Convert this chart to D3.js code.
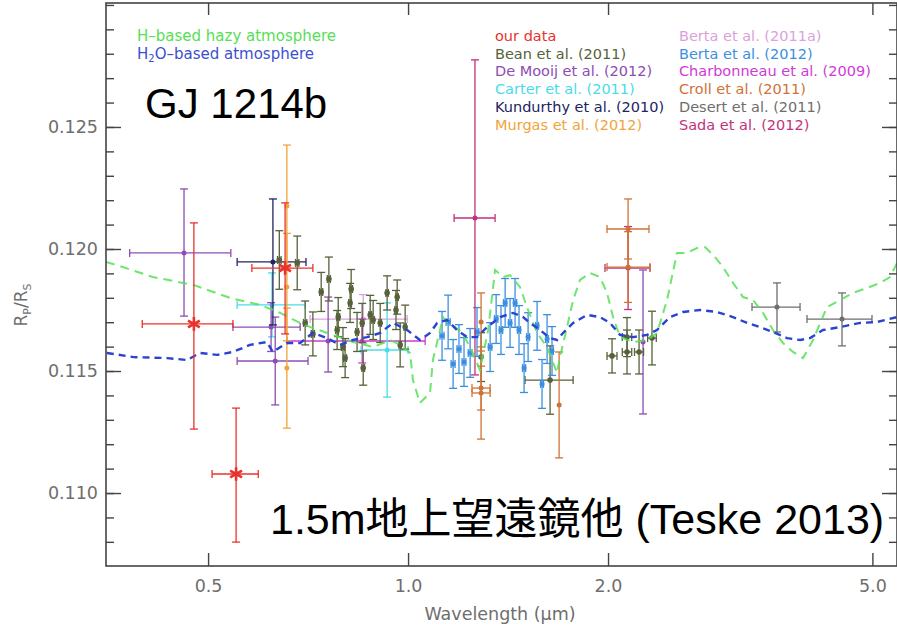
<!DOCTYPE html>
<html><head><meta charset="utf-8">
<script src="https://cdn.jsdelivr.net/npm/d3@7"></script>
<style>body{margin:0;background:#fff;} svg{display:block;}</style>
</head><body>
<svg id="c" width="897" height="627"></svg>
<script>
// rows: [wavelength, wl_minus, wl_plus, Rp/Rs, R_minus, R_plus]
const ourData = [
  [0.476, 0.078, 0.069, 0.11693, 0.00431, 0.00414],
  [0.551, 0.044, 0.044, 0.11078, 0.00279, 0.00270],
  [0.653, 0.071, 0.066, 0.11922, 0.00270, 0.00267]
];
const beanData = [
  [0.640, 0.004, 0.004, 0.11955, 0.0012, 0.0012],
  [0.681, 0.004, 0.004, 0.11943, 0.0011, 0.0011],
  [0.700, 0.004, 0.004, 0.11697, 0.0009, 0.0009],
  [0.719, 0.004, 0.004, 0.11652, 0.0009, 0.0009],
  [0.740, 0.004, 0.004, 0.11824, 0.0008, 0.0008],
  [0.760, 0.004, 0.004, 0.11877, 0.0009, 0.0009],
  [0.782, 0.004, 0.004, 0.11668, 0.0008, 0.0008],
  [0.785, 0.004, 0.004, 0.11721, 0.0008, 0.0008],
  [0.798, 0.004, 0.004, 0.11598, 0.0008, 0.0008],
  [0.804, 0.004, 0.004, 0.11553, 0.0008, 0.0008],
  [0.818, 0.004, 0.004, 0.11779, 0.0008, 0.0008],
  [0.821, 0.004, 0.004, 0.11836, 0.0008, 0.0008],
  [0.838, 0.004, 0.004, 0.11660, 0.0008, 0.0008],
  [0.853, 0.004, 0.004, 0.11697, 0.0008, 0.0008],
  [0.856, 0.004, 0.004, 0.11512, 0.0007, 0.0007],
  [0.877, 0.004, 0.004, 0.11730, 0.0008, 0.0008],
  [0.886, 0.004, 0.004, 0.11709, 0.0008, 0.0008],
  [0.908, 0.004, 0.004, 0.11697, 0.0008, 0.0008],
  [0.930, 0.004, 0.004, 0.11820, 0.0007, 0.0007],
  [0.959, 0.004, 0.004, 0.11750, 0.0008, 0.0008],
  [0.963, 0.004, 0.004, 0.11803, 0.0007, 0.0007],
  [0.973, 0.004, 0.004, 0.11607, 0.0009, 0.0009],
  [0.990, 0.004, 0.004, 0.11680, 0.0009, 0.0009],
  [1.288, 0.000, 0.000, 0.11557, 0.0010, 0.0010],
  [1.636, 0.136, 0.136, 0.11463, 0.0014, 0.0014],
  [2.028, 0.035, 0.035, 0.11562, 0.0007, 0.0007],
  [2.136, 0.035, 0.035, 0.11578, 0.0009, 0.0009],
  [2.227, 0.035, 0.035, 0.11578, 0.0009, 0.0009],
  [2.136, 0.035, 0.035, 0.11639, 0.0008, 0.0008],
  [2.329, 0.035, 0.035, 0.11635, 0.0011, 0.0011]
];
const deMooijData = [
  [0.460, 0.079, 0.081, 0.11984, 0.00259, 0.00262],
  [0.622, 0.077, 0.066, 0.11680, 0.0010, 0.0010],
  [0.631, 0.078, 0.076, 0.11541, 0.00180, 0.00180],
  [0.758, 0.000, 0.000, 0.11623, 0.00127, 0.00180],
  [2.258, 0.000, 0.000, 0.11619, 0.00295, 0.00295]
];
const carterData = [
  [0.624, 0.071, 0.076, 0.11771, 0.00131, 0.00131],
  [0.930, 0.080, 0.070, 0.11586, 0.00193, 0.00193]
];
const kundurthyData = [
  [0.626, 0.073, 0.076, 0.11947, 0.00258, 0.00258]
];
const murgasData = [
  [0.657, 0.000, 0.000, 0.12176, 0.0025, 0.0025],
  [0.657, 0.000, 0.000, 0.11844, 0.0022, 0.0022],
  [0.657, 0.000, 0.000, 0.11512, 0.00246, 0.00246]
];
const berta2011aData = [
  [0.856, 0.144, 0.141, 0.11713, 0.0010, 0.0010]
];
const berta2012Data = [
  [1.125, 0.008, 0.008, 0.11644, 0.0010, 0.0010],
  [1.149, 0.008, 0.008, 0.11701, 0.0011, 0.0011],
  [1.169, 0.008, 0.008, 0.11529, 0.0010, 0.0010],
  [1.193, 0.008, 0.008, 0.11590, 0.0010, 0.0010],
  [1.214, 0.008, 0.008, 0.11537, 0.0010, 0.0010],
  [1.240, 0.008, 0.008, 0.11574, 0.0010, 0.0010],
  [1.270, 0.008, 0.008, 0.11660, 0.0010, 0.0010],
  [1.329, 0.008, 0.008, 0.11598, 0.0010, 0.0010],
  [1.357, 0.008, 0.008, 0.11713, 0.0010, 0.0010],
  [1.380, 0.008, 0.008, 0.11668, 0.0010, 0.0010],
  [1.400, 0.008, 0.008, 0.11779, 0.0010, 0.0010],
  [1.424, 0.008, 0.008, 0.11697, 0.0010, 0.0010],
  [1.449, 0.008, 0.008, 0.11779, 0.0010, 0.0010],
  [1.469, 0.008, 0.008, 0.11668, 0.0010, 0.0010],
  [1.495, 0.008, 0.008, 0.11512, 0.0010, 0.0010],
  [1.516, 0.008, 0.008, 0.11639, 0.0010, 0.0010],
  [1.564, 0.008, 0.008, 0.11685, 0.0010, 0.0010],
  [1.591, 0.008, 0.008, 0.11447, 0.0010, 0.0010],
  [1.619, 0.008, 0.008, 0.11631, 0.0010, 0.0010],
  [1.647, 0.008, 0.008, 0.11582, 0.0010, 0.0010]
];
const charbonneauData = [
  [0.853, 0.196, 0.208, 0.11623, 0.0009, 0.0009]
];
const crollData = [
  [2.144, 0.151, 0.161, 0.12082, 0.00123, 0.00123],
  [2.144, 0.151, 0.169, 0.11926, 0.00145, 0.00145],
  [1.288, 0.000, 0.000, 0.11701, 0.00119, 0.00119],
  [1.288, 0.040, 0.041, 0.11430, 0.0009, 0.0009],
  [1.288, 0.040, 0.041, 0.11410, 0.00189, 0.00189],
  [1.688, 0.000, 0.000, 0.11361, 0.00217, 0.00217]
];
const desertData = [
  [3.592, 0.298, 0.299, 0.11762, 0.00102, 0.00099],
  [4.500, 0.514, 0.493, 0.11713, 0.00110, 0.00107]
];
const sadaData = [
  [1.261, 0.088, 0.091, 0.12127, 0.00643, 0.00648],
  [2.144, 0.165, 0.169, 0.11922, 0.0017, 0.0017]
];

// model spectra: [wavelength, Rp/Rs]
const hHazyModel = [
  [0.351,0.11947],[0.372,0.11926],[0.413,0.11885],[0.475,0.11853],[0.540,0.11799],
  [0.599,0.11771],[0.642,0.11738],[0.688,0.11697],[0.719,0.11676],[0.771,0.11648],
  [0.826,0.11619],[0.886,0.11598],[0.940,0.11627],[0.973,0.11607],[1.007,0.11574],
  [1.017,0.11463],[1.042,0.11369],[1.079,0.11410],[1.090,0.11545],[1.129,0.11721],
  [1.145,0.11697],[1.177,0.11680],[1.206,0.11656],[1.240,0.11598],[1.283,0.11504],
  [1.320,0.11668],[1.352,0.11914],[1.390,0.11885],[1.424,0.11893],[1.474,0.11844],
  [1.510,0.11762],[1.564,0.11656],[1.619,0.11598],[1.647,0.11545],[1.676,0.11492],
  [1.693,0.11557],[1.735,0.11680],[1.772,0.11791],[1.815,0.11873],[1.879,0.11902],
  [1.945,0.11885],[1.993,0.11820],[2.035,0.11721],[2.085,0.11639],[2.181,0.11619],
  [2.289,0.11627],[2.370,0.11656],[2.454,0.11791],[2.540,0.11984],[2.630,0.11984],
  [2.723,0.12004],[2.799,0.12008],[2.898,0.11967],[2.979,0.11926],[3.084,0.11861],
  [3.193,0.11803],[3.306,0.11791],[3.422,0.11738],[3.543,0.11668],[3.668,0.11615],
  [3.797,0.11578],[3.931,0.11553],[4.070,0.11627],[4.272,0.11762],[4.469,0.11791],
  [4.675,0.11820],[4.908,0.11840],[5.134,0.11861],[5.315,0.11885],[5.445,0.11943]
];
const h2oModel = [
  [0.352,0.11574],[0.386,0.11557],[0.434,0.11553],[0.465,0.11545],[0.486,0.11574],
  [0.516,0.11566],[0.545,0.11578],[0.578,0.11607],[0.613,0.11619],[0.626,0.11578],
  [0.657,0.11615],[0.688,0.11615],[0.719,0.11656],[0.755,0.11635],[0.790,0.11607],
  [0.826,0.11627],[0.868,0.11639],[0.908,0.11656],[0.949,0.11697],[0.997,0.11668],
  [1.042,0.11627],[1.079,0.11656],[1.106,0.11697],[1.145,0.11709],[1.185,0.11668],
  [1.227,0.11639],[1.270,0.11639],[1.315,0.11680],[1.376,0.11721],[1.439,0.11738],
  [1.490,0.11721],[1.526,0.11697],[1.580,0.11668],[1.636,0.11635],[1.676,0.11627],
  [1.711,0.11656],[1.772,0.11697],[1.860,0.11730],[1.945,0.11721],[2.014,0.11697],
  [2.085,0.11648],[2.181,0.11639],[2.289,0.11648],[2.370,0.11668],[2.479,0.11721],
  [2.594,0.11742],[2.751,0.11750],[2.918,0.11742],[3.084,0.11721],[3.238,0.11697],
  [3.387,0.11680],[3.543,0.11660],[3.719,0.11635],[3.891,0.11627],[4.028,0.11635],
  [4.213,0.11668],[4.469,0.11680],[4.790,0.11697],[5.081,0.11701],[5.445,0.11721]
];

const xTicks = [0.5, 1.0, 2.0, 5.0];
const xTickLabels = ["0.5", "1.0", "2.0", "5.0"];
const yTicks = [0.110, 0.115, 0.120, 0.125];
const yMinorTicks = d3.range(108, 131).map(v => v / 1000);
const legendLeft = ["our data","Bean et al. (2011)","De Mooij et al. (2012)","Carter et al. (2011)","Kundurthy et al. (2010)","Murgas et al. (2012)"];
const legendRight = ["Berta et al. (2011a)","Berta et al. (2012)","Charbonneau et al. (2009)","Croll et al. (2011)","Desert et al. (2011)","Sada et al. (2012)"];
const legendLeftColors = ["#e8322c","#56623a","#8e4cb4","#48dce8","#23235f","#f0a43a"];
const legendRightColors = ["#d9a2dc","#3c8fe0","#d03ad6","#cf7236","#6e6e6e","#c2327a"];

const M = {l:106, r:897, t:3, b:566};
const x = d3.scaleLog().domain([0.351, 5.445]).range([M.l, M.r]);
const y = d3.scaleLinear().domain([0.10701, 0.13008]).range([M.b, M.t]);
const svg = d3.select('#c');
const FONT = "'DejaVu Sans', sans-serif";

svg.append('defs').append('clipPath').attr('id','clip')
  .append('rect').attr('x',M.l).attr('y',M.t).attr('width',M.r-M.l).attr('height',M.b-M.t);

const plot = svg.append('g').attr('clip-path','url(#clip)');

function drawSeries(rows, color, marker) {
  const g = plot.append('g').attr('stroke', color).attr('fill', color).attr('stroke-width', 1.3);
  const cap = 4;
  rows.forEach(r => {
    const [wl, wm, wp, v, vm, vp] = r;
    const cx = x(wl), cy = y(v);
    if (wm > 0 || wp > 0) {
      const x0 = x(wl - wm), x1 = x(wl + wp);
      g.append('line').attr('x1',x0).attr('x2',x1).attr('y1',cy).attr('y2',cy);
      g.append('line').attr('x1',x0).attr('x2',x0).attr('y1',cy-cap).attr('y2',cy+cap);
      g.append('line').attr('x1',x1).attr('x2',x1).attr('y1',cy-cap).attr('y2',cy+cap);
    }
    const y0 = y(v - vm), y1 = y(v + vp);
    g.append('line').attr('x1',cx).attr('x2',cx).attr('y1',y0).attr('y2',y1);
    g.append('line').attr('x1',cx-cap).attr('x2',cx+cap).attr('y1',y0).attr('y2',y0);
    g.append('line').attr('x1',cx-cap).attr('x2',cx+cap).attr('y1',y1).attr('y2',y1);
    if (marker === 'star') {
      g.append('path').attr('d', d3.symbol(d3.symbolAsterisk, 130)())
        .attr('transform', `translate(${cx},${cy})`).attr('fill','none').attr('stroke-width',2.6);
    } else {
      g.append('circle').attr('cx',cx).attr('cy',cy).attr('r', marker === 'big' ? 2.8 : 2.5).attr('stroke','none');
    }
  });
}

drawSeries(berta2011aData, legendRightColors[0], 'dot');
drawSeries(desertData, legendRightColors[4], 'dot');
drawSeries(charbonneauData, legendRightColors[2], 'dot');
drawSeries(carterData, legendLeftColors[3], 'dot');
drawSeries(deMooijData, legendLeftColors[2], 'dot');
drawSeries(kundurthyData, legendLeftColors[4], 'dot');
drawSeries(beanData, legendLeftColors[1], 'big');
drawSeries(berta2012Data, legendRightColors[1], 'dot');
drawSeries(sadaData, legendRightColors[5], 'dot');
drawSeries(crollData, legendRightColors[3], 'dot');
drawSeries(murgasData, legendLeftColors[5], 'dot');

const line = d3.line().x(d => x(d[0])).y(d => y(d[1]));
plot.append('path').attr('d', line(hHazyModel)).attr('fill','none')
  .attr('stroke','#55e055').attr('stroke-width',2).attr('stroke-dasharray','9,6').attr('opacity',0.85);
plot.append('path').attr('d', line(h2oModel)).attr('fill','none')
  .attr('stroke','#2b43d2').attr('stroke-width',2.4).attr('stroke-dasharray','7,5');

drawSeries(ourData, legendLeftColors[0], 'star');

// axes
const axCol = '#444';
function styleAxis(g) {
  g.select('.domain').remove();
  g.selectAll('.tick line').attr('stroke', axCol).attr('stroke-width', 1.4);
  g.selectAll('.tick text').attr('fill','#6e6e6e').attr('font-family',FONT).attr('font-size',17.5);
}
// left
svg.append('g').attr('transform',`translate(${M.l},0)`)
  .call(d3.axisLeft(y).tickValues(yMinorTicks).tickSizeInner(-8).tickSizeOuter(0).tickFormat(''))
  .call(styleAxis);
svg.append('g').attr('transform',`translate(${M.l},0)`)
  .call(d3.axisLeft(y).tickValues(yTicks).tickSizeInner(-15).tickSizeOuter(0).tickPadding(8).tickFormat(d3.format('.3f')))
  .call(styleAxis);
// right
svg.append('g').attr('transform',`translate(${M.r},0)`)
  .call(d3.axisRight(y).tickValues(yMinorTicks).tickSizeInner(-8).tickSizeOuter(0).tickFormat(''))
  .call(styleAxis);
svg.append('g').attr('transform',`translate(${M.r},0)`)
  .call(d3.axisRight(y).tickValues(yTicks).tickSizeInner(-15).tickSizeOuter(0).tickFormat(''))
  .call(styleAxis);
// bottom
svg.append('g').attr('transform',`translate(0,${M.b})`)
  .call(d3.axisBottom(x).tickValues(xTicks).tickSizeInner(-13).tickSizeOuter(0).tickPadding(14)
    .tickFormat((d,i) => xTickLabels[i]))
  .call(styleAxis);
// top
svg.append('g').attr('transform',`translate(0,${M.t})`)
  .call(d3.axisTop(x).tickValues(xTicks).tickSizeInner(-12).tickSizeOuter(0).tickFormat(''))
  .call(styleAxis);

svg.append('rect').attr('x',M.l).attr('y',M.t).attr('width',M.r-M.l).attr('height',M.b-M.t)
  .attr('fill','none').attr('stroke',axCol).attr('stroke-width',1.6);

// axis titles
svg.append('text').attr('x',500).attr('y',620).attr('text-anchor','middle')
  .attr('font-family',FONT).attr('font-size',17.5).attr('fill','#6e6e6e').text('Wavelength (\u03bcm)');
const yl = svg.append('text').attr('transform','translate(27,305) rotate(-90)').attr('text-anchor','middle')
  .attr('font-family',FONT).attr('font-size',17).attr('fill','#6e6e6e');
yl.append('tspan').text('R');
yl.append('tspan').attr('font-size',11).attr('dy',4).text('P');
yl.append('tspan').attr('dy',-4).text('/R');
yl.append('tspan').attr('font-size',11).attr('dy',4).text('S');

// model legend
svg.append('text').attr('x',137).attr('y',41).attr('font-family',FONT).attr('font-size',15)
  .attr('fill','#55e055').text('H\u2013based hazy atmosphere');
const h2o = svg.append('text').attr('x',137).attr('y',59).attr('font-family',FONT).attr('font-size',15)
  .attr('fill','#3b50d0');
h2o.append('tspan').text('H');
h2o.append('tspan').attr('font-size',10).attr('dy',3).text('2');
h2o.append('tspan').attr('dy',-3).text('O\u2013based atmosphere');

// data legend
const lg = svg.append('g').attr('font-family',FONT).attr('font-size',14.5);
legendLeft.forEach((t,i) => lg.append('text').attr('x',495).attr('y',41 + i*17.7).attr('fill',legendLeftColors[i]).text(t));
legendRight.forEach((t,i) => lg.append('text').attr('x',679).attr('y',41 + i*17.7).attr('fill',legendRightColors[i]).text(t));

// annotations
svg.append('text').attr('x',145).attr('y',118).attr('font-family',"'Liberation Sans', Arial, sans-serif")
  .attr('font-size',42).attr('fill','#000').text('GJ 1214b');
svg.append('text').attr('x',270).attr('y',534).attr('font-family',"'Liberation Sans', 'Noto Sans CJK JP', sans-serif")
  .attr('font-size',43).attr('fill','#000').text('1.5m\u5730\u4e0a\u671b\u9060\u93e1\u4ed6 (Teske 2013)');
</script>
</body></html>
